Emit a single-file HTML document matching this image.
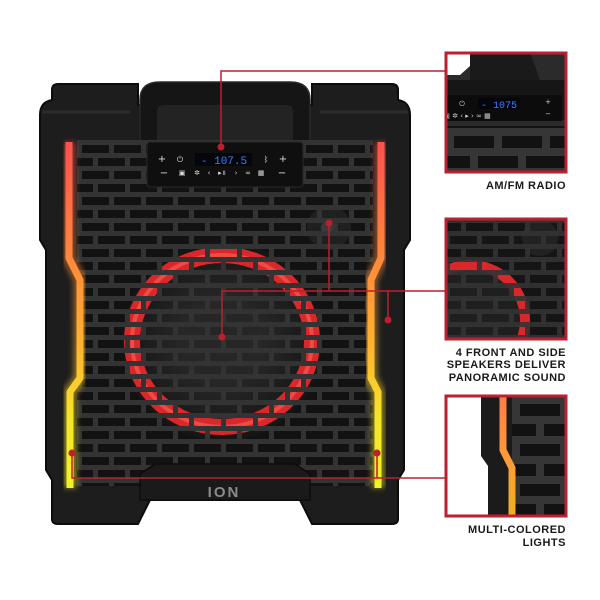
<!DOCTYPE html>
<html><head><meta charset="utf-8"><style>
html,body{margin:0;padding:0;background:#fff;}
svg{display:block;}
.lbl{font-family:"Liberation Sans",sans-serif;font-weight:bold;font-size:11px;fill:#1a1a1a;letter-spacing:0.5px;}
</style></head><body>
<svg width="600" height="600" viewBox="0 0 600 600" xmlns="http://www.w3.org/2000/svg">
<defs>
  <pattern id="mortar" width="64" height="26" patternUnits="userSpaceOnUse" x="77" y="140">
    <rect x="0" y="0" width="64" height="5" fill="#333"/>
    <rect x="0" y="13" width="64" height="5" fill="#333"/>
    <rect x="0" y="0" width="5" height="13" fill="#333"/>
    <rect x="32" y="0" width="5" height="13" fill="#333"/>
    <rect x="16" y="13" width="5" height="13" fill="#333"/>
    <rect x="48" y="13" width="5" height="13" fill="#333"/>
  </pattern>
  <pattern id="mortarBig" width="96" height="40" patternUnits="userSpaceOnUse">
    <rect x="0" y="0" width="96" height="8" fill="#363636"/>
    <rect x="0" y="20" width="96" height="8" fill="#363636"/>
    <rect x="0" y="0" width="8" height="20" fill="#363636"/>
    <rect x="48" y="0" width="8" height="20" fill="#363636"/>
    <rect x="24" y="20" width="8" height="20" fill="#363636"/>
    <rect x="72" y="20" width="8" height="20" fill="#363636"/>
  </pattern>
  <linearGradient id="light" x1="0" y1="140" x2="0" y2="488" gradientUnits="userSpaceOnUse">
    <stop offset="0" stop-color="#ff4f4f"/>
    <stop offset="0.35" stop-color="#ff8a3a"/>
    <stop offset="0.6" stop-color="#ffb52e"/>
    <stop offset="0.8" stop-color="#f5e52a"/>
    <stop offset="1" stop-color="#f2f226"/>
  </linearGradient>
  <linearGradient id="light3" x1="0" y1="395" x2="0" y2="517" gradientUnits="userSpaceOnUse">
    <stop offset="0" stop-color="#ff7a4a"/>
    <stop offset="0.5" stop-color="#ff9a3a"/>
    <stop offset="1" stop-color="#f0b020"/>
  </linearGradient>
  <radialGradient id="woof" cx="0.5" cy="0.5" r="0.5">
    <stop offset="0" stop-color="#555"/>
    <stop offset="0.3" stop-color="#2a2a2a"/>
    <stop offset="1" stop-color="#151515"/>
  </radialGradient>
  <filter id="glow" x="-50%" y="-10%" width="200%" height="120%"><feGaussianBlur stdDeviation="3"/></filter>
  <clipPath id="c1"><rect x="446" y="53" width="120" height="119"/></clipPath>
  <clipPath id="c2"><rect x="446" y="219" width="120" height="120"/></clipPath>
  <clipPath id="c3"><rect x="446" y="396" width="120" height="120"/></clipPath>
</defs>

<path d="M52,90 Q52,84 58,84 L138,84 L138,105 L312,105 L312,84 L392,84 Q398,84 398,90 L398,100 Q410,102 410,115 L410,240 L404,250 L404,470 L398,480 L398,519 Q398,524 392,524 L312,524 L300,500 L150,500 L138,524 L58,524 Q52,524 52,519 L52,480 L46,470 L46,250 L40,240 L40,115 Q40,102 52,100 Z" fill="#1d1d1d" stroke="#0c0c0c" stroke-width="2"/>
<path d="M42,112 L130,112 M320,112 L408,112" stroke="#2c2c2c" stroke-width="3"/>

<path d="M140,190 L140,100 Q140,82 160,82 L290,82 Q310,82 310,100 L310,190 L292,190 L292,112 Q292,106 286,106 L164,106 Q158,106 158,112 L158,190 Z" fill="#151515" stroke="#2a2a2a" stroke-width="1.5"/>
<rect x="158" y="106" width="134" height="38" fill="#232323"/>

<rect x="77" y="140" width="296" height="346" fill="#121212"/>
<circle cx="222" cy="341" r="100" fill="url(#woof)"/>
<circle cx="222" cy="341" r="38" fill="#262626"/>
<circle cx="329" cy="228" r="22" fill="#202020"/>
<circle cx="329" cy="228" r="8" fill="#3a3a3a"/>
<ellipse cx="222" cy="341" rx="90" ry="86" fill="none" stroke="#d8282c" stroke-width="16"/>
<ellipse cx="222" cy="341" rx="90" ry="86" fill="none" stroke="#ff6055" stroke-width="4" opacity="0.6"/>
<rect x="77" y="140" width="296" height="346" fill="url(#mortar)"/>

<path d="M140,474 L155,464 L295,464 L310,474 L310,500 L140,500 Z" fill="#1a1a1a" stroke="#0c0c0c" stroke-width="1.5"/>
<text x="224" y="497" text-anchor="middle" font-family="'Liberation Sans',sans-serif" font-weight="bold" font-size="15" fill="#8a8a8a" letter-spacing="2">ION</text>

<rect x="147" y="142" width="156" height="45" rx="3" fill="#0f0f0f" stroke="#2a2a2a"/>
<rect x="195" y="153" width="57" height="13" fill="#05060c"/>
<text x="224" y="164" text-anchor="middle" font-family="'Liberation Mono',monospace" font-size="11" fill="#3d7dff">- 107.5 </text>
<g font-family="'DejaVu Sans',sans-serif" fill="#ddd" font-size="10" text-anchor="middle">
  <text x="162" y="162">+</text><text x="164" y="176">−</text>
  <text x="180" y="162" font-size="8">⏻</text>
  <text x="266" y="162" font-size="8">ᛒ</text>
  <text x="283" y="162">+</text><text x="282" y="176">−</text>
  <text x="182" y="175" font-size="7">▣</text>
  <text x="197" y="175" font-size="7">✲</text>
  <text x="209" y="175" font-size="7">‹</text>
  <text x="222" y="175" font-size="7">▸॥</text>
  <text x="236" y="175" font-size="7">›</text>
  <text x="248" y="175" font-size="7">∞</text>
  <text x="261" y="175" font-size="7">▦</text>
</g>

<g fill="none" stroke="url(#light)" stroke-linejoin="round">
  <polyline points="69,142 69,258 80,280 80,378 70,392 70,488" stroke-width="13" opacity="0.5" filter="url(#glow)"/>
  <polyline points="381,142 381,258 371,280 371,378 378,392 378,488" stroke-width="13" opacity="0.5" filter="url(#glow)"/>
  <polyline points="69,142 69,258 80,280 80,378 70,392 70,488" stroke-width="7"/>
  <polyline points="381,142 381,258 371,280 371,378 378,392 378,488" stroke-width="7"/>
</g>

<g clip-path="url(#c1)">
  <rect x="446" y="53" width="120" height="119" fill="#2b2b2b"/>
  <polygon points="446,53 470,53 470,66 460,75 446,75" fill="#fff"/>
  <path d="M470,53 L530,53 L540,80 L470,80 Z" fill="#1a1a1a"/>
  <rect x="446" y="80" width="120" height="40" fill="#161616"/>
  <rect x="446" y="95" width="116" height="26" fill="#0c0c0c"/>
  <rect x="478" y="98" width="42" height="11" fill="#05060c"/>
  <text x="499" y="108" text-anchor="middle" font-family="'Liberation Mono',monospace" font-size="10" fill="#3d7dff">- 1075</text>
  <g font-family="'DejaVu Sans',sans-serif" fill="#ccc" font-size="7" text-anchor="middle">
    <text x="462" y="106">⏻</text><text x="548" y="104">+</text><text x="548" y="116">−</text>
    <text x="467" y="118">▣ ✲ ‹ ▸ › ∞ ▦</text>
  </g>
  <rect x="446" y="126" width="120" height="46" fill="#121212"/>
  <g transform="translate(446,128)"><rect width="120" height="46" fill="url(#mortarBig)"/></g>
</g>
<rect x="446" y="53" width="120" height="119" fill="none" stroke="#be1e2d" stroke-width="3"/>
<text class="lbl" x="566" y="189" text-anchor="end">AM/FM RADIO</text>

<g clip-path="url(#c2)">
  <rect x="446" y="219" width="120" height="120" fill="#151515"/>
  <circle cx="470" cy="320" r="60" fill="#1f1f1f"/>
  <circle cx="540" cy="238" r="18" fill="#222"/>
  <circle cx="470" cy="320" r="55" fill="none" stroke="#d8282c" stroke-width="10"/>
  <rect x="446" y="219" width="120" height="120" fill="url(#mortar)" opacity="0.9"/>
</g>
<rect x="446" y="219" width="120" height="120" fill="none" stroke="#be1e2d" stroke-width="3"/>
<text class="lbl" x="566" y="356" text-anchor="end">4 FRONT AND SIDE</text>
<text class="lbl" x="566" y="368" text-anchor="end">SPEAKERS DELIVER</text>
<text class="lbl" x="566" y="381" text-anchor="end">PANORAMIC SOUND</text>

<g clip-path="url(#c3)">
  <rect x="446" y="396" width="120" height="120" fill="#fff"/>
  <path d="M483,396 L517,396 L517,516 L488,516 L488,466 L481,456 L481,396 Z" fill="#1b1b1b"/>
  <rect x="512" y="396" width="54" height="120" fill="#121212"/>
  <g transform="translate(512,396)"><rect width="54" height="120" fill="url(#mortarBig)"/></g>
  <polyline points="503,396 503,450 512,468 512,516" fill="none" stroke="url(#light3)" stroke-width="7"/>
</g>
<rect x="446" y="396" width="120" height="120" fill="none" stroke="#be1e2d" stroke-width="3"/>
<text class="lbl" x="566" y="533" text-anchor="end">MULTI-COLORED</text>
<text class="lbl" x="566" y="546" text-anchor="end">LIGHTS</text>

<g stroke="#be1e2d" stroke-width="1.5" fill="none">
  <polyline points="221,147 221,71 446,71"/>
  <polyline points="222,337 222,291 446,291"/>
  <line x1="329" y1="223" x2="329" y2="291"/>
  <line x1="388" y1="291" x2="388" y2="320"/>
  <polyline points="72,453 72,478 446,478"/>
  <line x1="377" y1="453" x2="377" y2="478"/>
</g>
<g fill="#be1e2d">
  <circle cx="221" cy="147" r="3.5"/>
  <circle cx="329" cy="223" r="3.5"/>
  <circle cx="222" cy="337" r="3.5"/>
  <circle cx="388" cy="320" r="3.5"/>
  <circle cx="72" cy="453" r="3.5"/>
  <circle cx="377" cy="453" r="3.5"/>
</g>
</svg>
</body></html>
